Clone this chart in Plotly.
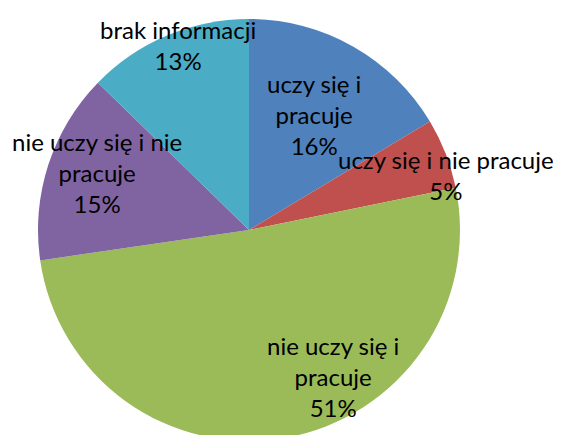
import math
import plotly.graph_objects as go

# ---- data ----
labels = ["uczy się i pracuje", "uczy się i nie pracuje", "nie uczy się i pracuje",
          "nie uczy się i nie pracuje", "brak informacji"]
label_text = ["uczy się i<br>pracuje", "uczy się i nie pracuje", "nie uczy się i<br>pracuje",
              "nie uczy się i nie<br>pracuje", "brak informacji"]
values = [16.4, 5.4, 50.9, 14.6, 12.7]

# ---- styles ----
colors = ["#4F81BD", "#C0504D", "#9BBB59", "#8064A2", "#4BACC6"]
label_angle_shift = [0, 5.6, -20, 2.7, 2]      # degrees, relative to slice mid-angle
label_radius_frac = [0.63, 0.97, 0.80, 0.77, 0.94]
FONT = "Lato"
FS = 24

W, H = 545, 440
ML, MR, MT, MB = 30, 93, 11, 7
plotW, plotH = W - ML - MR, H - MT - MB
R = min(plotW, plotH) / 2

fig = go.Figure(go.Pie(
    labels=labels, values=values, sort=False, direction="clockwise", rotation=0,
    marker=dict(colors=colors, line=dict(width=0)),
    textinfo="none", hoverinfo="label+percent", showlegend=False,
))

total = sum(values)
cum = 0
annotations = []
for i, v in enumerate(values):
    mid = (cum + v / 2) / total * 360
    cum += v
    th = math.radians(mid + label_angle_shift[i])
    f = label_radius_frac[i]
    x = 0.5 + f * R * math.sin(th) / plotW
    y = 0.5 + f * R * math.cos(th) / plotH
    pct = round(v / total * 100)
    annotations.append(dict(
        x=x, y=y, xref="paper", yref="paper", xanchor="center", yanchor="middle",
        text=f"{label_text[i]}<br>{pct}%", showarrow=False, align="center",
        font=dict(family=FONT, size=FS, color="black"),
    ))

fig.update_layout(
    width=W, height=H, autosize=False,
    margin=dict(l=ML, r=MR, t=MT, b=MB),
    paper_bgcolor="white", plot_bgcolor="white",
    annotations=annotations,
)
fig.write_html("out.html")
